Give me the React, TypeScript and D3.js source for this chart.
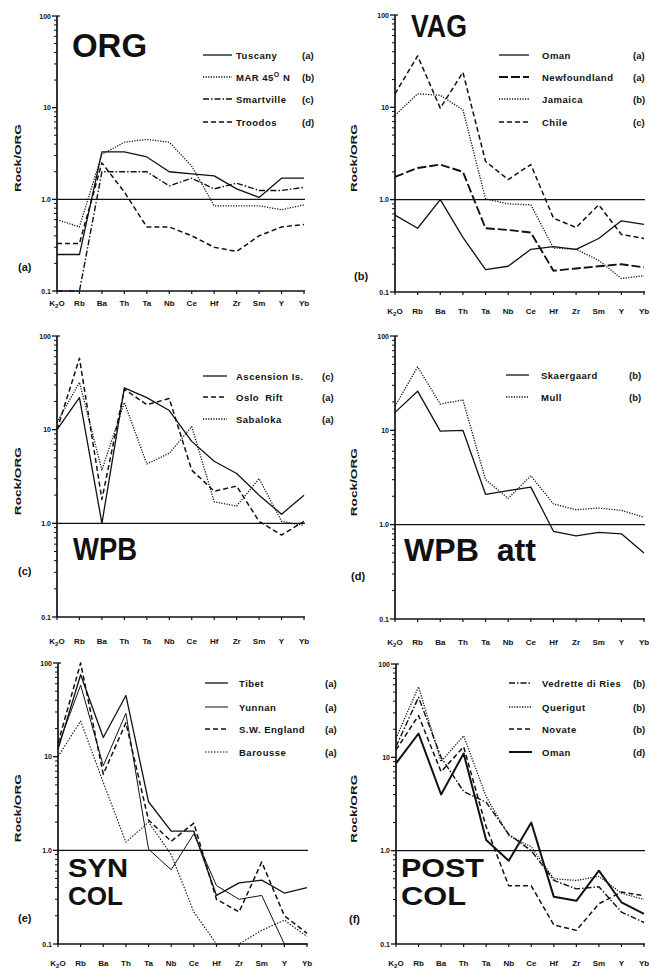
import React from 'react';
import * as d3 from 'd3';

const categories = ['K2O', 'Rb', 'Ba', 'Th', 'Ta', 'Nb', 'Ce', 'Hf', 'Zr', 'Sm', 'Y', 'Yb'];
const yTickValues = [100, 10, 1, 0.1];
const yTickLabels = ['100', '10', '1.0', '0.1'];

// (a) ORG
const tuscany = [0.25, 0.25, 3.3, 3.3, 2.9, 2.0, 1.9, 1.8, 1.3, 1.05, 1.7, 1.7];
const mar45 = [0.6, 0.5, 3.1, 4.2, 4.5, 4.2, 2.3, 0.85, 0.85, 0.85, 0.77, 0.87];
const smartville = [0.1, 0.1, 2.0, 2.0, 2.0, 1.4, 1.7, 1.3, 1.5, 1.25, 1.25, 1.35];
const troodos = [0.33, 0.33, 2.5, 1.2, 0.5, 0.5, 0.4, 0.3, 0.27, 0.4, 0.5, 0.53];

// (b) VAG
const omanVag = [0.68, 0.49, 1.0, 0.39, 0.175, 0.19, 0.29, 0.31, 0.29, 0.38, 0.59, 0.54];
const newfoundland = [1.77, 2.2, 2.4, 2.0, 0.49, 0.47, 0.44, 0.17, 0.18, 0.19, 0.2, 0.185];
const jamaica = [8.2, 14, 13.5, 9.4, 1.02, 0.9, 0.88, 0.3, 0.29, 0.22, 0.14, 0.15];
const chile = [14, 36, 9.8, 24, 2.6, 1.65, 2.4, 0.63, 0.5, 0.88, 0.42, 0.38];

// (c) WPB
const ascension = [10, 22, 1.0, 28, 22, 16, 7.5, 4.6, 3.4, 2.0, 1.25, 2.0];
const osloRift = [10, 58, 1.8, 27, 18.5, 21.5, 3.7, 2.2, 2.5, 1.05, 0.75, 1.05];
const sabaloka = [12, 32, 3.7, 19.5, 4.3, 5.6, 10.8, 1.7, 1.53, 3.0, 1.05, 0.95];

// (d) WPB att
const skaergaard = [15.5, 26, 9.8, 10, 2.1, 2.3, 2.5, 0.85, 0.76, 0.83, 0.8, 0.5];
const mull = [18, 47, 19, 21, 3.0, 1.9, 3.3, 1.66, 1.44, 1.5, 1.42, 1.2];

// (e) SYN COL
const tibet = [12, 75, 16, 45, 3.3, 1.6, 1.6, 0.33, 0.45, 0.48, 0.35, 0.4];
const yunnan = [13, 58, 8, 29, 1.03, 0.62, 1.5, 0.42, 0.3, 0.33, 0.1, 0.1];
const swEngland = [14, 100, 6.5, 23, 2.1, 1.25, 1.95, 0.3, 0.22, 0.75, 0.2, 0.13];
const barousse = [10, 24, 5.3, 1.22, 2.0, 0.9, 0.22, 0.1, 0.1, 0.14, 0.18, 0.12];

// (f) POST COL
const vedrette = [13, 44, 10, 4.3, 3.3, 1.5, 1.0, 0.48, 0.39, 0.41, 0.22, 0.17];
const querigut = [16, 57, 9, 17, 3.8, 1.45, 1.1, 0.5, 0.48, 0.53, 0.35, 0.3];
const novate = [12, 28, 7, 13, 1.8, 0.42, 0.42, 0.16, 0.14, 0.27, 0.36, 0.33];
const omanPost = [8.6, 18, 4.0, 11, 1.3, 0.78, 2.0, 0.32, 0.29, 0.61, 0.28, 0.21];

const FONT = "'Liberation Sans', Arial, Helvetica, sans-serif";
const INK = '#111';

const ST = {
  solid: { dash: undefined as string | undefined, w: 1.3 },
  dotted: { dash: '1.2,1.4', w: 1.3 },
  dashed: { dash: '5,3', w: 1.5 },
  dashdot: { dash: '6,2,1.5,2', w: 1.4 },
  longdash: { dash: '9,3', w: 1.9 },
  thick: { dash: undefined as string | undefined, w: 2.0 },
  thin: { dash: undefined as string | undefined, w: 1.0 },
  thinDot: { dash: '1.5,1.5', w: 1.1 },
};

type S = { name: React.ReactNode; ref: string; values: number[]; style: { dash?: string; w: number } };

type PanelCfg = {
  x0: number; x1: number; yTop: number; yBot: number;
  labelY: number;
  series: S[];
  legend: { lx0: number; lx1: number; nameX: number; refX: number; rows: number[] };
  title: { text: string; x: number; y: number; len: number; size: number }[];
  tag: { text: string; x: number; y: number };
  axisTitleX: number;
};

const panels: PanelCfg[] = [
  {
    x0: 57, x1: 304, yTop: 16, yBot: 291, labelY: 306,
    series: [
      { name: 'Tuscany', ref: '(a)', values: tuscany, style: ST.solid },
      { name: <>MAR 45<tspan dy={-4} fontSize={7}>O</tspan><tspan dy={4}> N</tspan></>, ref: '(b)', values: mar45, style: ST.dotted },
      { name: 'Smartville', ref: '(c)', values: smartville, style: ST.dashdot },
      { name: 'Troodos', ref: '(d)', values: troodos, style: ST.dashed },
    ],
    legend: { lx0: 203, lx1: 232, nameX: 236, refX: 302, rows: [55, 77, 99, 122] },
    title: [{ text: 'ORG', x: 72, y: 57, len: 75, size: 34 }],
    tag: { text: '(a)', x: 18, y: 271 },
    axisTitleX: 21,
  },
  {
    x0: 395, x1: 644, yTop: 15, yBot: 292, labelY: 314,
    series: [
      { name: 'Oman', ref: '(a)', values: omanVag, style: ST.solid },
      { name: 'Newfoundland', ref: '(a)', values: newfoundland, style: ST.longdash },
      { name: 'Jamaica', ref: '(b)', values: jamaica, style: ST.dotted },
      { name: 'Chile', ref: '(c)', values: chile, style: ST.dashed },
    ],
    legend: { lx0: 499, lx1: 529, nameX: 542, refX: 633, rows: [55, 77, 99, 122] },
    title: [{ text: 'VAG', x: 411, y: 37, len: 56, size: 31 }],
    tag: { text: '(b)', x: 354, y: 280 },
    axisTitleX: 357,
  },
  {
    x0: 57, x1: 304, yTop: 336, yBot: 617, labelY: 644,
    series: [
      { name: 'Ascension Is.', ref: '(c)', values: ascension, style: ST.solid },
      { name: <>Oslo<tspan dx={6}>Rift</tspan></>, ref: '(a)', values: osloRift, style: ST.dashed },
      { name: 'Sabaloka', ref: '(a)', values: sabaloka, style: ST.dotted },
    ],
    legend: { lx0: 203, lx1: 227, nameX: 236, refX: 322, rows: [376, 397, 419] },
    title: [{ text: 'WPB', x: 73, y: 560, len: 64, size: 31 }],
    tag: { text: '(c)', x: 18, y: 575 },
    axisTitleX: 21,
  },
  {
    x0: 395, x1: 644, yTop: 336, yBot: 619, labelY: 645,
    series: [
      { name: 'Skaergaard', ref: '(b)', values: skaergaard, style: ST.solid },
      { name: 'Mull', ref: '(b)', values: mull, style: ST.dotted },
    ],
    legend: { lx0: 506, lx1: 529, nameX: 541, refX: 629, rows: [375, 397] },
    title: [{ text: 'WPB  att', x: 404, y: 561, len: 132, size: 31 }],
    tag: { text: '(d)', x: 351, y: 580 },
    axisTitleX: 357,
  },
  {
    x0: 58, x1: 307, yTop: 663, yBot: 944, labelY: 966,
    series: [
      { name: 'Tibet', ref: '(a)', values: tibet, style: ST.solid },
      { name: 'Yunnan', ref: '(a)', values: yunnan, style: ST.thin },
      { name: 'S.W. England', ref: '(a)', values: swEngland, style: ST.dashed },
      { name: 'Barousse', ref: '(a)', values: barousse, style: ST.thinDot },
    ],
    legend: { lx0: 205, lx1: 228, nameX: 239, refX: 325, rows: [683, 707, 729, 752] },
    title: [
      { text: 'SYN', x: 68, y: 877, len: 60, size: 25 },
      { text: 'COL', x: 68, y: 905, len: 55, size: 25 },
    ],
    tag: { text: '(e)', x: 18, y: 922 },
    axisTitleX: 21,
  },
  {
    x0: 396, x1: 644, yTop: 664, yBot: 944, labelY: 966,
    series: [
      { name: 'Vedrette di Ries', ref: '(b)', values: vedrette, style: ST.dashdot },
      { name: 'Querigut', ref: '(b)', values: querigut, style: ST.dotted },
      { name: 'Novate', ref: '(b)', values: novate, style: ST.dashed },
      { name: 'Oman', ref: '(d)', values: omanPost, style: ST.thick },
    ],
    legend: { lx0: 509, lx1: 532, nameX: 542, refX: 633, rows: [683, 707, 729, 752] },
    title: [
      { text: 'POST', x: 401, y: 877, len: 83, size: 25 },
      { text: 'COL', x: 401, y: 905, len: 65, size: 25 },
    ],
    tag: { text: '(f)', x: 349, y: 923 },
    axisTitleX: 357,
  },
];

function Panel({ cfg }: { cfg: PanelCfg }) {
  const x = d3.scalePoint<string>().domain(categories).range([cfg.x0, cfg.x1]);
  const y = d3.scaleLog().domain([0.1, 100]).range([cfg.yBot, cfg.yTop]);
  const line = d3
    .line<number>()
    .x((_, i) => x(categories[i]) as number)
    .y((d) => y(d));
  const minor: number[] = [];
  [0.1, 1, 10].forEach((dec) => {
    for (let k = 2; k <= 9; k++) minor.push(dec * k);
  });
  const midY = (y(1) + y(10)) / 2 + (y(1) - y(10)) * 0.05;
  return (
    <g>
      <line x1={cfg.x0} x2={cfg.x0} y1={y(100)} y2={y(0.1)} stroke={INK} strokeWidth={1.7} />
      <line x1={cfg.x0} x2={cfg.x1 + 1} y1={y(0.1)} y2={y(0.1)} stroke={INK} strokeWidth={1.7} />
      <line x1={cfg.x0} x2={cfg.x1 + 1} y1={y(1)} y2={y(1)} stroke={INK} strokeWidth={1.3} />
      {minor.map((v) => (
        <line key={v} x1={cfg.x0 - 3} x2={cfg.x0} y1={y(v)} y2={y(v)} stroke={INK} strokeWidth={1} />
      ))}
      {yTickValues.map((v, i) => (
        <g key={v}>
          <line x1={cfg.x0 - 5} x2={cfg.x0 + (i === 0 ? 3 : 0)} y1={y(v)} y2={y(v)} stroke={INK} strokeWidth={1.3} />
          <text x={cfg.x0 - 6} y={y(v) + 2.5} textAnchor="end" fontSize={7} fontWeight={700} fontFamily={FONT} fill={INK}>
            {yTickLabels[i]}
          </text>
        </g>
      ))}
      {categories.map((c) => (
        <line key={c} x1={x(c)} x2={x(c)} y1={y(0.1)} y2={y(0.1) + 3} stroke={INK} strokeWidth={1.2} />
      ))}
      {categories.map((c) => (
        <text key={c} x={x(c)} y={cfg.labelY} textAnchor="middle" fontSize={8} fontWeight={700} fontFamily={FONT} fill={INK}>
          {c === 'K2O' ? (
            <>
              K<tspan dy={2} fontSize={6}>2</tspan>
              <tspan dy={-2}>O</tspan>
            </>
          ) : (
            c
          )}
        </text>
      ))}
      <text
        transform={`translate(${cfg.axisTitleX},${midY}) rotate(-90)`}
        textAnchor="middle"
        fontSize={9.5}
        fontWeight={700}
        fontFamily={FONT}
        fill={INK}
        textLength={68}
        lengthAdjust="spacingAndGlyphs"
      >
        Rock/ORG
      </text>
      {cfg.series.map((s, i) => (
        <path
          key={i}
          d={line(s.values) || ''}
          fill="none"
          stroke={INK}
          strokeWidth={s.style.w}
          strokeDasharray={s.style.dash}
          strokeLinejoin="round"
        />
      ))}
      {cfg.series.map((s, i) => {
        const ry = cfg.legend.rows[i];
        return (
          <g key={'lg' + i}>
            <line x1={cfg.legend.lx0} x2={cfg.legend.lx1} y1={ry} y2={ry} stroke={INK} strokeWidth={s.style.w} strokeDasharray={s.style.dash} />
            <text x={cfg.legend.nameX} y={ry + 3.5} fontSize={9.5} fontWeight={700} fontFamily={FONT} letterSpacing={0.5} fill={INK}>
              {s.name}
            </text>
            <text x={cfg.legend.refX} y={ry + 3.5} fontSize={9.5} fontWeight={700} fontFamily={FONT} fill={INK}>
              {s.ref}
            </text>
          </g>
        );
      })}
      {cfg.title.map((t, i) => (
        <text
          key={'t' + i}
          x={t.x}
          y={t.y}
          fontSize={t.size}
          fontWeight={700}
          fontFamily={FONT}
          fill={INK}
          textLength={t.len}
          lengthAdjust="spacingAndGlyphs"
          style={{ whiteSpace: 'pre' }}
        >
          {t.text}
        </text>
      ))}
      <text x={cfg.tag.x} y={cfg.tag.y} fontSize={11} fontWeight={700} fontFamily={FONT} fill={INK}>
        {cfg.tag.text}
      </text>
    </g>
  );
}

export default function App() {
  return (
    <svg
      width={659}
      height={974}
      viewBox="0 0 659 974"
      style={{ position: 'absolute', left: 0, top: 0, background: '#fff' }}
    >
      <rect width={659} height={974} fill="#fff" />
      {panels.map((p, i) => (
        <Panel key={i} cfg={p} />
      ))}
    </svg>
  );
}
